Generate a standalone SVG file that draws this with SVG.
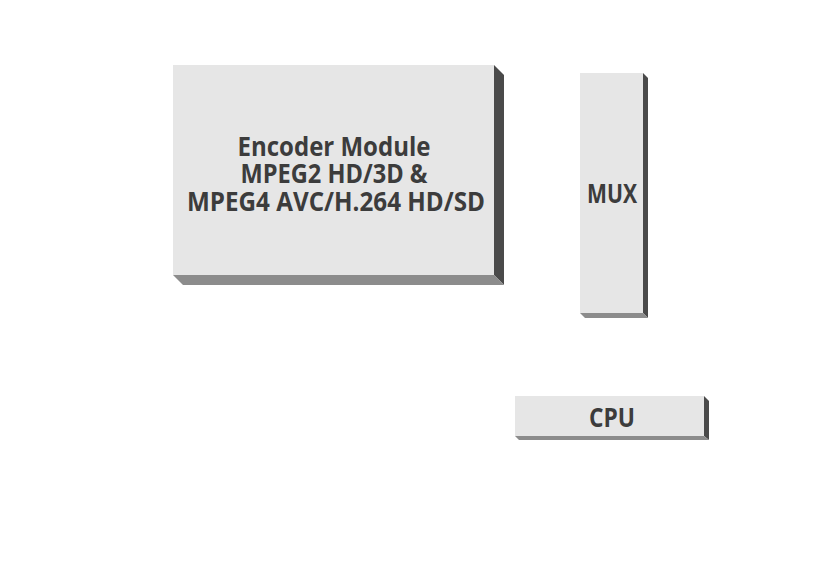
<svg xmlns="http://www.w3.org/2000/svg" width="840" height="570" viewBox="0 0 840 570">
<style>
.face{fill:#e6e6e6}
.side{fill:#4a4a4a}
.bot{fill:#8c8c8c}
.lbl{font-family:"Open Sans","Noto Sans",sans-serif;font-weight:700;font-size:27px;fill:#3c3c3c;text-anchor:middle}
</style>
<rect width="840" height="570" fill="#ffffff"/>
<g id="encoder">
<polygon class="side" points="494,65 504,75 504,285 494,275"/>
<polygon class="bot" points="173,275 494,275 504,285 183,285"/>
<rect class="face" x="173" y="65" width="321" height="210"/>
<text class="lbl" x="334" y="156" textLength="193" lengthAdjust="spacingAndGlyphs">Encoder Module</text>
<text class="lbl" x="334" y="183" textLength="187" lengthAdjust="spacingAndGlyphs">MPEG2 HD/3D &amp;</text>
<text class="lbl" x="336" y="211" textLength="298" lengthAdjust="spacingAndGlyphs">MPEG4 AVC/H.264 HD/SD</text>
</g>
<g id="mux">
<polygon class="side" points="643,73 648,78 648,318 643,313"/>
<polygon class="bot" points="580,313 643,313 648,318 585,318"/>
<rect class="face" x="580" y="73" width="63" height="240"/>
<text class="lbl" x="612" y="203" textLength="50" lengthAdjust="spacingAndGlyphs">MUX</text>
</g>
<g id="cpu">
<polygon class="side" points="704,396 709,401 709,440 704,436"/>
<polygon class="bot" points="515,436 704,436 709,440 519,440"/>
<rect class="face" x="515" y="396" width="189" height="40"/>
<text class="lbl" x="612" y="427" textLength="46" lengthAdjust="spacingAndGlyphs">CPU</text>
</g>
<g id="connectors"></g>
</svg>
